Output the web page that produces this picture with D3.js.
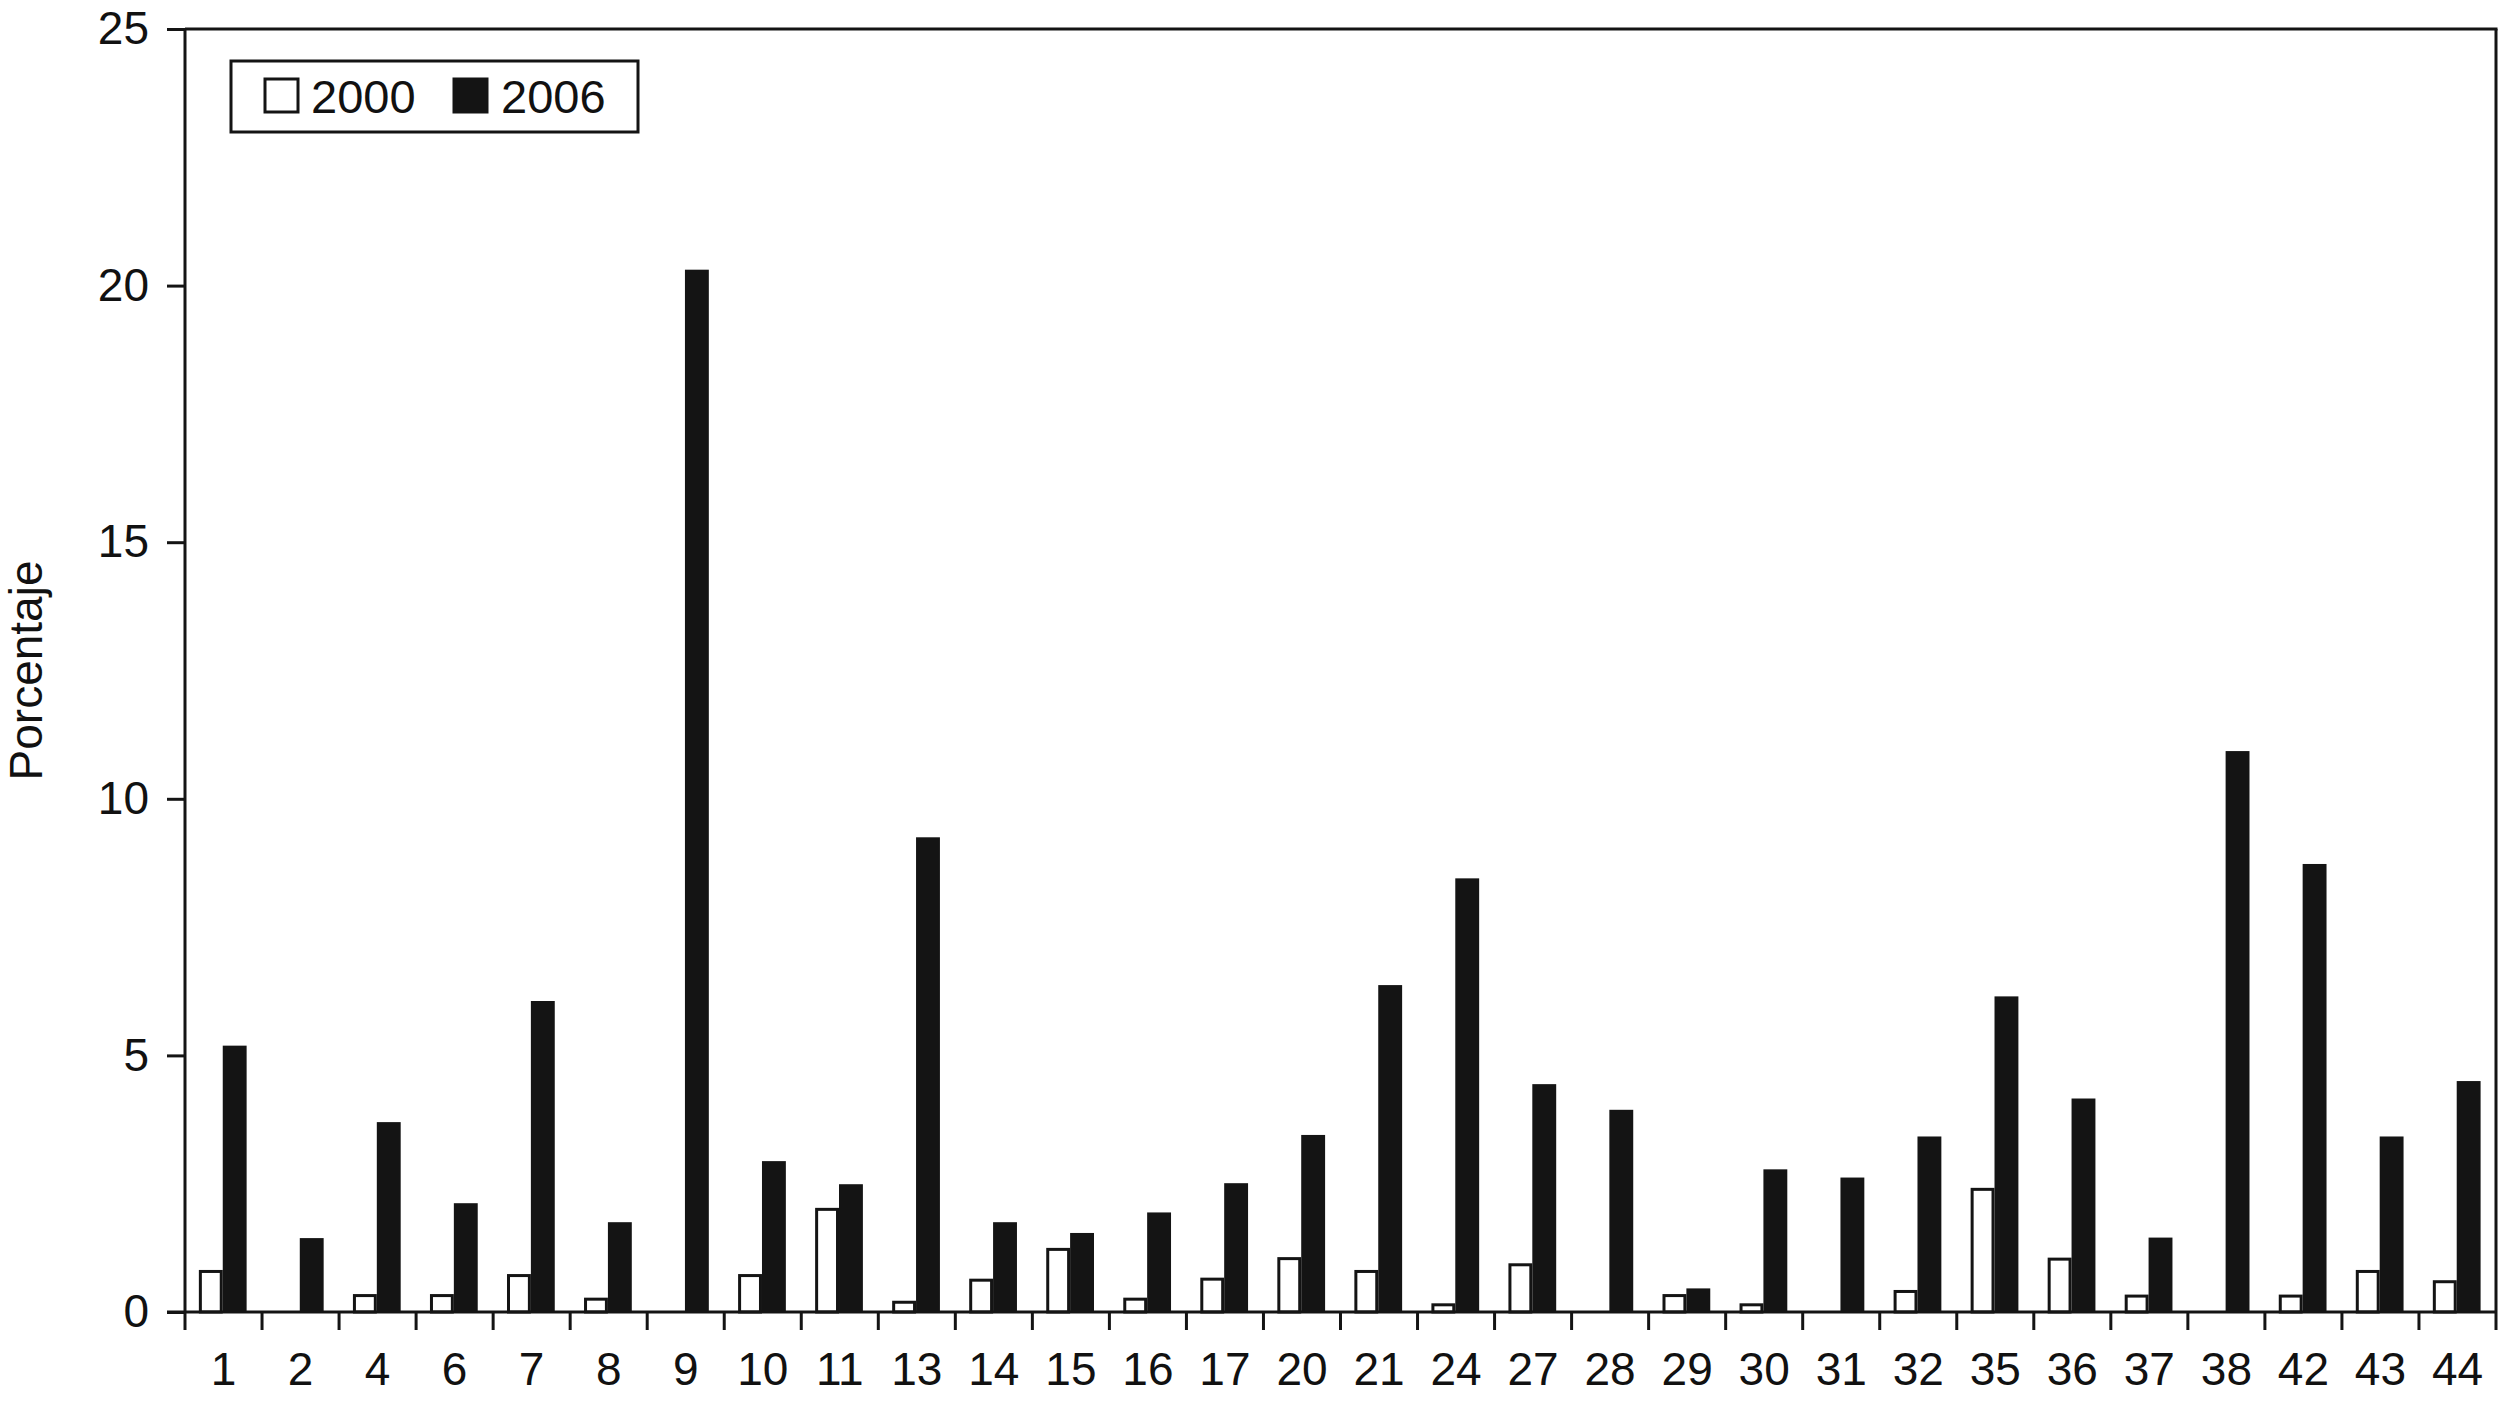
<!DOCTYPE html>
<html>
<head>
<meta charset="utf-8">
<script src="https://cdn.jsdelivr.net/npm/d3@7"></script>
<style>
  body { margin: 0; background: #fff; }
  svg { display: block; }
  text { font-family: "Liberation Sans", Arial, sans-serif; fill: #111; }
</style>
</head>
<body>
<svg id="chart"></svg>
<script>
var width = 2500;
var height = 1402;

// data
var categories = ["1", "2", "4", "6", "7", "8", "9", "10", "11", "13", "14", "15", "16", "17", "20",
  "21", "24", "27", "28", "29", "30", "31", "32", "35", "36", "37", "38", "42", "43", "44"];
var values2000 = [0.79, 0, 0.32, 0.32, 0.71, 0.25, 0, 0.71, 2.0, 0.19, 0.62, 1.22, 0.25, 0.64, 1.04,
  0.79, 0.14, 0.92, 0, 0.32, 0.14, 0, 0.40, 2.39, 1.03, 0.31, 0, 0.31, 0.79, 0.59];
var values2006 = [5.19, 1.44, 3.70, 2.12, 6.06, 1.75, 20.31, 2.94, 2.49, 9.25, 1.75, 1.54, 1.94, 2.51, 3.45,
  6.37, 8.45, 4.44, 3.94, 0.46, 2.78, 2.62, 3.42, 6.15, 4.16, 1.45, 10.93, 8.73, 3.42, 4.50];
var seriesNames = ["2000", "2006"];
var yTicks = [0, 5, 10, 15, 20, 25];

var margin = { left: 185, right: 4, top: 29, bottom: 90 };
var x0 = margin.left, x1 = width - margin.right;
var yTop = margin.top, yBase = height - margin.bottom;

var svg = d3.select("#chart").attr("width", width).attr("height", height);

var x = d3.scaleBand().domain(categories).range([x0, x1]).paddingInner(0).paddingOuter(0);
var xs = d3.scaleBand().domain(seriesNames)
  .range([x.bandwidth() * 0.18, x.bandwidth() * 0.80]);
var y = d3.scaleLinear().domain([0, 25]).range([yBase, yTop]);

var rows = categories.map(function (c, i) {
  return { cat: c, vals: [values2000[i], values2006[i]] };
});

// bars
var groups = svg.append("g").selectAll("g")
  .data(rows)
  .enter()
  .append("g")
  .attr("transform", function (d) { return "translate(" + x(d.cat) + ",0)"; });

groups.selectAll("rect")
  .data(function (d) {
    return d.vals.map(function (v, k) { return { key: seriesNames[k], v: v }; });
  })
  .enter()
  .filter(function (d) { return d.v > 0; })
  .append("rect")
  .attr("x", function (d) { return xs(d.key) + (d.key === "2000" ? 1.5 : 0); })
  .attr("width", function (d) { return xs.bandwidth() - (d.key === "2000" ? 3 : 0); })
  .attr("y", function (d) { return y(d.v); })
  .attr("height", function (d) { return yBase - y(d.v); })
  .attr("fill", function (d) { return d.key === "2000" ? "#fff" : "#141414"; })
  .attr("stroke", function (d) { return d.key === "2000" ? "#141414" : "none"; })
  .attr("stroke-width", 3);

// y axis
var yAxis = svg.append("g")
  .attr("transform", "translate(" + x0 + ",0)")
  .call(d3.axisLeft(y).tickValues(yTicks).tickSize(18).tickPadding(18));
yAxis.select(".domain").remove();
yAxis.selectAll(".tick line").attr("stroke", "#141414").attr("stroke-width", 3);
yAxis.selectAll(".tick text")
  .style("font-size", "46px")
  .style("font-family", "'Liberation Sans', Arial, sans-serif")
  .attr("fill", "#111");

// x axis labels
var xAxis = svg.append("g")
  .attr("transform", "translate(0," + yBase + ")")
  .call(d3.axisBottom(x).tickSize(0).tickPadding(40));
xAxis.select(".domain").remove();
xAxis.selectAll(".tick text")
  .style("font-size", "46px")
  .style("font-family", "'Liberation Sans', Arial, sans-serif")
  .attr("fill", "#111");

// x ticks at band boundaries
var bounds = categories.map(function (c) { return x(c); }).concat([x1]);
svg.append("g").selectAll("line")
  .data(bounds)
  .enter()
  .append("line")
  .attr("x1", function (d) { return d; })
  .attr("x2", function (d) { return d; })
  .attr("y1", yBase)
  .attr("y2", yBase + 18)
  .attr("stroke", "#141414")
  .attr("stroke-width", 3);

// frame
var frame = svg.append("g").attr("stroke", "#141414").attr("stroke-width", 3).attr("fill", "none");
frame.append("line").attr("x1", x0).attr("x2", x0).attr("y1", yTop).attr("y2", yBase);
frame.append("line").attr("x1", x0 - 18).attr("x2", x1).attr("y1", yBase).attr("y2", yBase);
frame.append("line").attr("x1", x0).attr("x2", x1 + 1.5).attr("y1", yTop).attr("y2", yTop);
frame.append("line").attr("x1", x1).attr("x2", x1).attr("y1", yTop).attr("y2", yBase);

// y title
svg.append("text")
  .attr("transform", "translate(42," + (yTop + yBase) / 2 + ")rotate(-90)")
  .attr("text-anchor", "middle")
  .style("font-size", "46px")
  .text("Porcentaje");

// legend
var legend = svg.append("g").attr("transform", "translate(231,61)");
legend.append("rect")
  .attr("width", 407).attr("height", 71)
  .attr("fill", "#fff").attr("stroke", "#141414").attr("stroke-width", 3);
var items = [
  { name: seriesNames[0], fill: "#fff", bx: 34, tx: 80 },
  { name: seriesNames[1], fill: "#141414", bx: 223, tx: 270 }
];
items.forEach(function (it) {
  legend.append("rect")
    .attr("x", it.bx).attr("y", 18).attr("width", 33).attr("height", 33)
    .attr("fill", it.fill).attr("stroke", "#141414").attr("stroke-width", 3);
  legend.append("text")
    .attr("x", it.tx).attr("y", 52)
    .style("font-size", "47px")
    .text(it.name);
});
</script>
</body>
</html>
